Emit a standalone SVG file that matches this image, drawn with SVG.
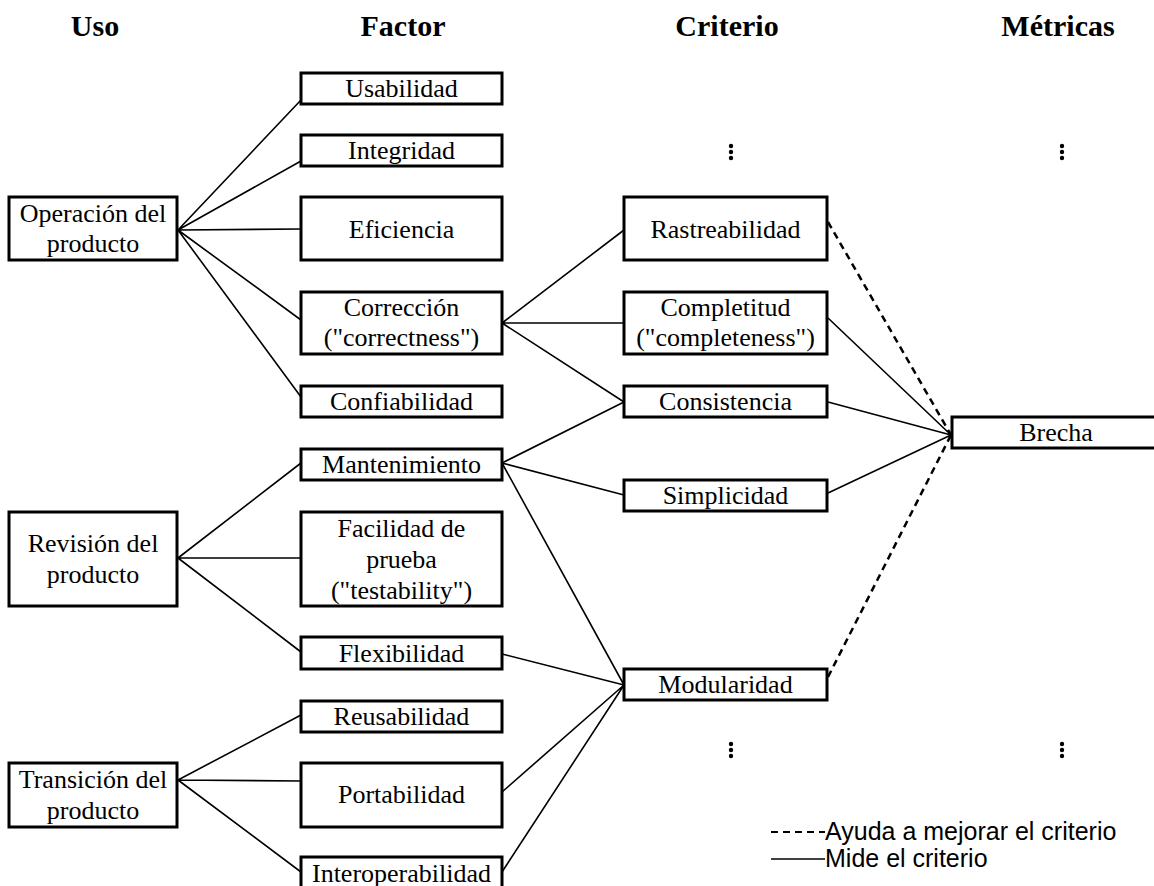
<svg xmlns="http://www.w3.org/2000/svg" width="1154" height="886" viewBox="0 0 1154 886">
  <style>
    .box { fill: #fff; stroke: #000; stroke-width: 3; }
    .lbl { font-family: "Liberation Serif", "Times New Roman", serif; font-size: 26px; fill: #000; text-anchor: middle; }
    .hdr { font-family: "Liberation Serif", "Times New Roman", serif; font-size: 30px; font-weight: bold; fill: #000; text-anchor: middle; }
    .leg { font-family: "Liberation Sans", Arial, sans-serif; font-size: 25px; fill: #000; }
    .solid { fill: none; stroke: #000; stroke-width: 1.6; }
    .dash { fill: none; stroke: #000; stroke-width: 2.5; stroke-dasharray: 7 5; }
    .dot { fill: #000; }
  </style>
  <rect width="1154" height="886" fill="#fff"/>

  <!-- column headers -->
  <g id="headers">
    <text class="hdr" x="95" y="36">Uso</text>
    <text class="hdr" x="403" y="36">Factor</text>
    <text class="hdr" x="727" y="36">Criterio</text>
    <text class="hdr" x="1058" y="36">Métricas</text>
  </g>

  <!-- connectors -->
  <g id="connectors">
    <!-- use -> factor -->
    <path class="solid" d="M178 230 L301 100 M178 230 L301 161 M178 230 L301 229 M178 230 L301 320 M178 230 L301 397"/>
    <path class="solid" d="M178 558 L301 463 M178 558 L301 558 M178 558 L301 652"/>
    <path class="solid" d="M178 780 L301 715 M178 780 L301 781 M178 780 L301 872"/>
    <!-- factor -> criterion -->
    <path class="solid" d="M502 323 L624 230 M502 323 L624 323 M502 323 L624 402"/>
    <path class="solid" d="M502 463 L624 402 M502 463 L624 495 M502 463 L624 685"/>
    <path class="solid" d="M502 654 L624 685 M502 792 L624 685 M502 872 L624 685"/>
    <!-- criterion -> metric -->
    <path class="solid" d="M828 318 L951 435 M828 402 L951 435 M828 493 L951 435"/>
    <path class="dash" d="M828 222 L951 435 M828 677 L951 435"/>
  </g>

  <!-- use column -->
  <g id="uso-operacion">
    <rect class="box" x="9" y="197" width="168" height="63"/>
    <text class="lbl" x="93" y="222">Operación del</text>
    <text class="lbl" x="93" y="252">producto</text>
  </g>
  <g id="uso-revision">
    <rect class="box" x="9" y="512" width="168" height="94"/>
    <text class="lbl" x="93" y="552">Revisión del</text>
    <text class="lbl" x="93" y="583">producto</text>
  </g>
  <g id="uso-transicion">
    <rect class="box" x="9" y="763" width="168" height="64"/>
    <text class="lbl" x="93" y="788">Transición del</text>
    <text class="lbl" x="93" y="819">producto</text>
  </g>

  <!-- factor column -->
  <g id="f-usabilidad">
    <rect class="box" x="301" y="73" width="201" height="31"/>
    <text class="lbl" x="401.5" y="97">Usabilidad</text>
  </g>
  <g id="f-integridad">
    <rect class="box" x="301" y="135" width="201" height="31"/>
    <text class="lbl" x="401.5" y="159">Integridad</text>
  </g>
  <g id="f-eficiencia">
    <rect class="box" x="301" y="197" width="201" height="63"/>
    <text class="lbl" x="401.5" y="238">Eficiencia</text>
  </g>
  <g id="f-correccion">
    <rect class="box" x="301" y="292" width="201" height="62"/>
    <text class="lbl" x="401.5" y="316">Corrección</text>
    <text class="lbl" x="401.5" y="346">("correctness")</text>
  </g>
  <g id="f-confiabilidad">
    <rect class="box" x="301" y="386" width="201" height="31"/>
    <text class="lbl" x="401.5" y="410">Confiabilidad</text>
  </g>
  <g id="f-mantenimiento">
    <rect class="box" x="301" y="449" width="201" height="31"/>
    <text class="lbl" x="401.5" y="473">Mantenimiento</text>
  </g>
  <g id="f-facilidad">
    <rect class="box" x="301" y="512" width="201" height="94"/>
    <text class="lbl" x="401.5" y="537">Facilidad de</text>
    <text class="lbl" x="401.5" y="568">prueba</text>
    <text class="lbl" x="401.5" y="599">("testability")</text>
  </g>
  <g id="f-flexibilidad">
    <rect class="box" x="301" y="637" width="201" height="32"/>
    <text class="lbl" x="401.5" y="662">Flexibilidad</text>
  </g>
  <g id="f-reusabilidad">
    <rect class="box" x="301" y="701" width="201" height="31"/>
    <text class="lbl" x="401.5" y="725">Reusabilidad</text>
  </g>
  <g id="f-portabilidad">
    <rect class="box" x="301" y="763" width="201" height="64"/>
    <text class="lbl" x="401.5" y="803">Portabilidad</text>
  </g>
  <g id="f-interoperabilidad">
    <rect class="box" x="301" y="857" width="201" height="34"/>
    <text class="lbl" x="401.5" y="882">Interoperabilidad</text>
  </g>

  <!-- criterion column -->
  <g id="c-rastreabilidad">
    <rect class="box" x="624" y="197" width="203" height="63"/>
    <text class="lbl" x="725.5" y="238">Rastreabilidad</text>
  </g>
  <g id="c-completitud">
    <rect class="box" x="624" y="292" width="203" height="62"/>
    <text class="lbl" x="725.5" y="316">Completitud</text>
    <text class="lbl" x="725.5" y="346">("completeness")</text>
  </g>
  <g id="c-consistencia">
    <rect class="box" x="624" y="386" width="203" height="31"/>
    <text class="lbl" x="725.5" y="410">Consistencia</text>
  </g>
  <g id="c-simplicidad">
    <rect class="box" x="624" y="480" width="203" height="31"/>
    <text class="lbl" x="725.5" y="504">Simplicidad</text>
  </g>
  <g id="c-modularidad">
    <rect class="box" x="624" y="669" width="203" height="31"/>
    <text class="lbl" x="725.5" y="693">Modularidad</text>
  </g>

  <!-- metric column -->
  <g id="m-brecha">
    <rect class="box" x="952" y="417" width="210" height="31"/>
    <text class="lbl" x="1056" y="441">Brecha</text>
  </g>

  <!-- continuation marks -->
  <g id="ellipses">
    <circle class="dot" cx="731" cy="146" r="2.2"/><circle class="dot" cx="731" cy="152" r="2.2"/><circle class="dot" cx="731" cy="158" r="2.2"/>
    <circle class="dot" cx="1062" cy="146" r="2.2"/><circle class="dot" cx="1062" cy="152" r="2.2"/><circle class="dot" cx="1062" cy="158" r="2.2"/>
    <circle class="dot" cx="731" cy="744" r="2.2"/><circle class="dot" cx="731" cy="750" r="2.2"/><circle class="dot" cx="731" cy="756" r="2.2"/>
    <circle class="dot" cx="1062" cy="744" r="2.2"/><circle class="dot" cx="1062" cy="750" r="2.2"/><circle class="dot" cx="1062" cy="756" r="2.2"/>
  </g>

  <!-- legend -->
  <g id="legend">
    <line x1="771" y1="832" x2="825" y2="832" stroke="#000" stroke-width="2" stroke-dasharray="7 5"/>
    <text class="leg" x="825" y="840">Ayuda a mejorar el criterio</text>
    <line x1="771" y1="859" x2="825" y2="859" stroke="#000" stroke-width="1.5"/>
    <text class="leg" x="825" y="867">Mide el criterio</text>
  </g>
</svg>
